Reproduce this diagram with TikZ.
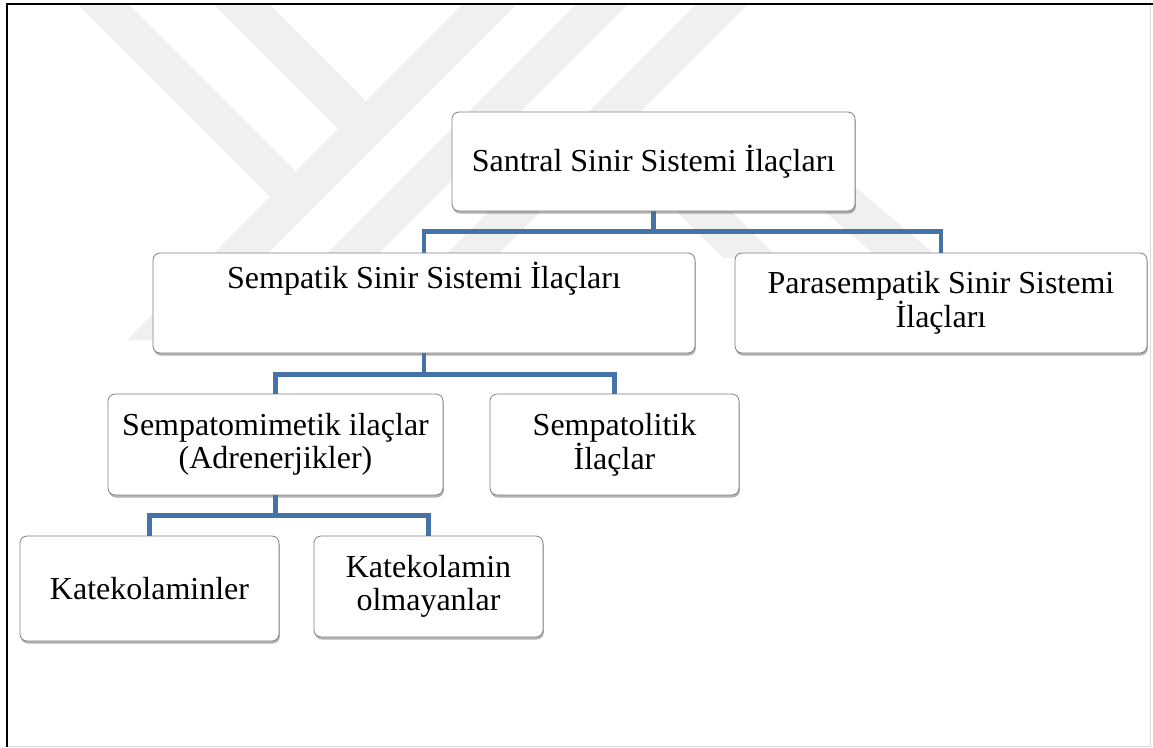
\documentclass[tikz,border=0pt]{standalone}
\usepackage{fontspec}
\setmainfont{Liberation Serif}
\usepackage{xcolor}
\usetikzlibrary{shadows}
\definecolor{kolmavi}{RGB}{69,114,167}
\newcommand{\ilacfont}{\fontsize{32}{33}\selectfont}

\begin{document}
\begin{tikzpicture}[x=1pt, y=-1pt,
	wm/.style={fill=gray!12},
	ilac/.style={draw=black!50, line width=0.8pt, fill=white, rounded corners=7pt, inner sep=0pt, align=center, font=\ilacfont, drop shadow={shadow xshift=0.8pt, shadow yshift=-2.5pt, fill=black, opacity=0.3}},
	kol/.style={draw=kolmavi, line width=4.5pt}]
	\useasboundingbox (0,0) rectangle (1153,747);
	\begin{scope}
		\clip (7,4) rectangle (1150,746);
		\fill[wm] (77,4) -- (128,4) -- (295.5,171.5) -- (270,197) -- cycle;
		\fill[wm] (213,4) -- (269,4) -- (366,101) -- (338,129) -- cycle;
		\fill[wm] (463,4) -- (517,4) -- (181,340) -- (127,340) -- cycle;
		\fill[wm] (576,4) -- (628,4) -- (332,300) -- (280,300) -- cycle;
		\fill[wm] (696,4) -- (748,4) -- (452,300) -- (400,300) -- cycle;
		\fill[wm] (636,116) -- (778,258) -- (723,258) -- (608.5,143.5) -- cycle;
		\fill[wm] (800,140) -- (933,253) -- (873,253) -- (740,140) -- cycle;
	\end{scope}
	\draw[gray!30] (1150,4) -- (1150,746) -- (7,746);
	\draw[line width=1.2pt] (7,747) -- (7,4) -- (1153,4);

	\node[ilac, minimum width=403pt, minimum height=99pt] (santral) at (653.5,161.5) {Santral Sinir Sistemi İlaçları};
	\node[ilac, minimum width=542pt, minimum height=100pt] (sempatik) at (424,303) {};
	\node[anchor=base, font=\ilacfont] (sempatikyazi) at (424,288) {Sempatik Sinir Sistemi İlaçları};
	\node[ilac, minimum width=412pt, minimum height=100pt] (parasempatik) at (941,303) {Parasempatik Sinir Sistemi\\İlaçları};
	\node[ilac, minimum width=335pt, minimum height=101pt] (mimetik) at (275.5,444.5) {Sempatomimetik ilaçlar\\(Adrenerjikler)};
	\node[ilac, minimum width=249pt, minimum height=101pt] (litik) at (614.5,444.5) {Sempatolitik\\İlaçlar};
	\node[ilac, minimum width=259pt, minimum height=105pt] (kateko) at (149.5,588.5) {Katekolaminler};
	\node[ilac, minimum width=229pt, minimum height=101pt] (katekodegil) at (428.5,586.5) {Katekolamin\\olmayanlar};

	\draw[kol] (santral.south) -- ++(0,20) -| (sempatik.north);
	\draw[kol] (santral.south) -- ++(0,20) -| (parasempatik.north);
	\draw[kol] (sempatik.south) -- ++(0,21) -| (mimetik.north);
	\draw[kol] (sempatik.south) -- ++(0,21) -| (litik.north);
	\draw[kol] (mimetik.south) -- ++(0,20) -| (kateko.north);
	\draw[kol] (mimetik.south) -- ++(0,20) -| (katekodegil.north);
\end{tikzpicture}
\end{document}
